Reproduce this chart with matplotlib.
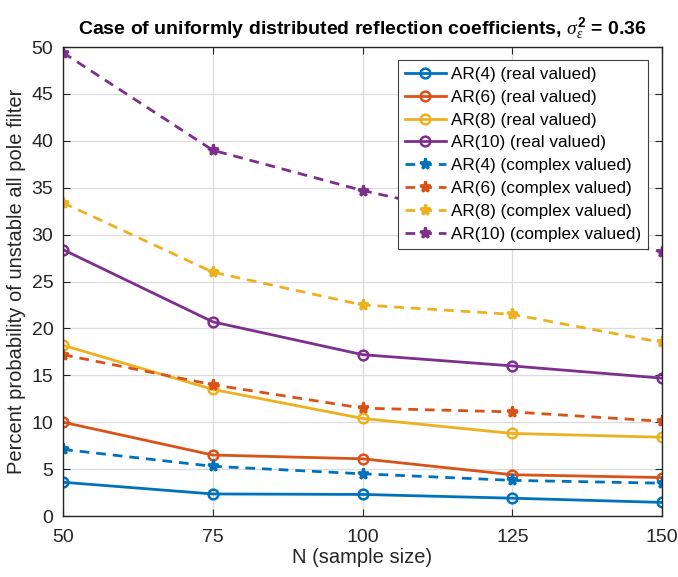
import matplotlib.pyplot as plt

plt.rcParams['font.family'] = ['Liberation Sans', 'DejaVu Sans']
plt.rcParams['mathtext.fontset'] = 'custom'
plt.rcParams['mathtext.rm'] = 'Liberation Serif'
plt.rcParams['mathtext.it'] = 'Liberation Serif:italic'
plt.rcParams['mathtext.bf'] = 'Liberation Sans:bold'

n = [50, 75, 100, 125, 150]

ar4_real = [3.6, 2.35, 2.3, 1.9, 1.45]
ar6_real = [10.0, 6.5, 6.1, 4.4, 4.1]
ar8_real = [18.2, 13.5, 10.4, 8.8, 8.4]
ar10_real = [28.4, 20.7, 17.2, 16.0, 14.7]

ar4_cplx = [7.1, 5.3, 4.5, 3.8, 3.5]
ar6_cplx = [17.2, 14.0, 11.5, 11.1, 10.1]
ar8_cplx = [33.4, 26.0, 22.5, 21.5, 18.5]
ar10_cplx = [49.4, 39.0, 34.7, 31.2, 28.2]

colors = ['#0072BD', '#D95319', '#EDB120', '#7E2F8E']
orders = [4, 6, 8, 10]

fig = plt.figure(figsize=(6.78, 5.77), dpi=100)
ax = fig.add_axes([0.093, 0.1057, 0.8835, 0.8128])

for c, k, y in zip(colors, orders, [ar4_real, ar6_real, ar8_real, ar10_real]):
    ax.plot(n, y, '-o', color=c, lw=2, ms=7, mfc='none', mew=1.8,
            label='AR(%d) (real valued)' % k)
for c, k, y in zip(colors, orders, [ar4_cplx, ar6_cplx, ar8_cplx, ar10_cplx]):
    ax.plot(n, y, '--*', color=c, lw=2, ms=8, mew=2, dashes=(3.5, 2.5),
            label='AR(%d) (complex valued)' % k)

ax.set_xlim(50, 150)
ax.set_ylim(0, 50)
ax.set_xticks(n)
ax.set_yticks(range(0, 51, 5))
ax.grid(True, color='#dcdcdc', lw=0.9)
ax.set_axisbelow(True)
ax.tick_params(direction='in', top=True, right=True, labelsize=14, length=5,
               color='#262626', labelcolor='#262626', pad=7)
ax.tick_params(axis='x', pad=9)
for s in ax.spines.values():
    s.set_color('#262626')
    s.set_linewidth(1)

ax.set_xlabel('N (sample size)', fontsize=14.5, color='#262626', labelpad=2)
ax.set_ylabel('Percent probability of unstable all pole filter', fontsize=14.5,
              color='#262626', labelpad=4)
ax.set_title(r'Case of uniformly distributed reflection coefficients, $\sigma_{\epsilon}^{\mathbf{2}}$ = 0.36',
             fontsize=14, fontweight='bold', pad=9)

leg = ax.legend(loc='upper right', fontsize=12.3, fancybox=False, edgecolor='#404040',
                framealpha=1, handlelength=2.4, labelspacing=0.46, borderpad=0.4,
                handletextpad=0.3, borderaxespad=0, bbox_to_anchor=(0.9766, 0.9723))
leg.get_frame().set_linewidth(0.8)

fig.savefig('out.png', dpi=100)
